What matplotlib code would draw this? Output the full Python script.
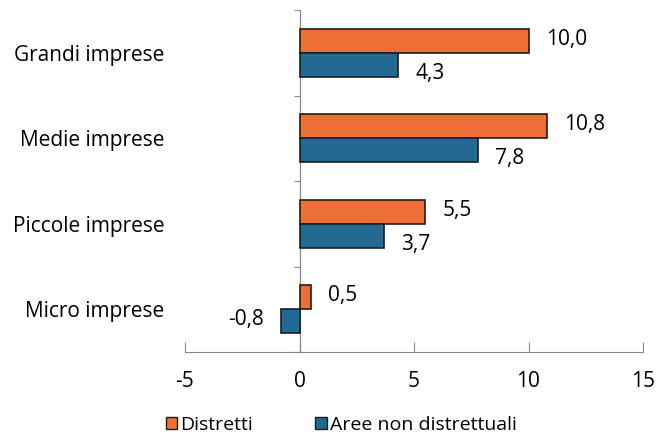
import matplotlib
matplotlib.use("Agg")
import matplotlib.pyplot as plt
import numpy as np
from matplotlib.patches import Patch

categories = ["Grandi imprese", "Medie imprese", "Piccole imprese", "Micro imprese"]
distretti = [10.0, 10.8, 5.5, 0.5]
non_distr = [4.3, 7.8, 3.7, -0.8]
series_names = ["Distretti", "Aree non distrettuali"]
xticks = [-5, 0, 5, 10, 15]

plt.rcParams['font.family'] = ['Open Sans', 'DejaVu Sans']

orange = "#EE6F35"
blue = "#226A92"

fig = plt.figure(figsize=(6.62, 4.34), dpi=100)
ax = fig.add_axes([185/662, 1-352/434, 458/662, 342/434])

n = len(categories)
y = np.arange(n)[::-1].astype(float)  # top to bottom
h = 0.28
ax.barh(y + h/2, distretti, height=h, color=orange, edgecolor="#2a1a10", linewidth=1.2, zorder=3)
ax.barh(y - h/2, non_distr, height=h, color=blue, edgecolor="#15202a", linewidth=1.2, zorder=3)

def fmt(v):
    return f"{v:.1f}".replace(".", ",")

fs_val = 15
for yi, v in zip(y, distretti):
    ax.text(v + 0.75, yi + h/2 + 0.02, fmt(v), va="center", ha="left", fontsize=fs_val)
for yi, v in zip(y, non_distr):
    if v >= 0:
        ax.text(v + 0.75, yi - h/2 - 0.1, fmt(v), va="center", ha="left", fontsize=fs_val)
    else:
        ax.text(v - 0.75, yi - h/2 + 0.02, fmt(v), va="center", ha="right", fontsize=fs_val)

ax.set_xlim(-5, 15)
ax.set_ylim(-0.5, n - 0.5)
ax.set_xticks(xticks)
ax.set_xticklabels([str(t) for t in xticks], fontsize=15)
ax.tick_params(axis="x", direction="in", length=7, color="#888888", pad=14)
ax.set_yticks(y)
ax.set_yticklabels(categories, fontsize=15)
ax.tick_params(axis="y", length=0, pad=15)

for s in ["top", "right", "left"]:
    ax.spines[s].set_visible(False)
ax.spines["bottom"].set_color("#888888")
ax.axvline(0, color="#888888", linewidth=0.9, zorder=2)

sec = ax.secondary_yaxis(location=(0 - (-5)) / 20)
sec.set_yticks(np.arange(n + 1) - 0.5)
sec.set_yticklabels([])
sec.tick_params(axis="y", direction="out", length=4, color="#888888")
sec.spines["left"].set_visible(False)

handles = [Patch(facecolor=orange, edgecolor="#2a1a10", label=series_names[0]),
           Patch(facecolor=blue, edgecolor="#15202a", label=series_names[1])]
fig.legend(handles=handles, loc="lower left", bbox_to_anchor=(158/662, -0.018), ncol=2,
           frameon=False, fontsize=14, handlelength=0.6, handleheight=0.6,
           handletextpad=0.15, columnspacing=3.2, borderaxespad=0.0)

fig.savefig("out.png", dpi=100)
